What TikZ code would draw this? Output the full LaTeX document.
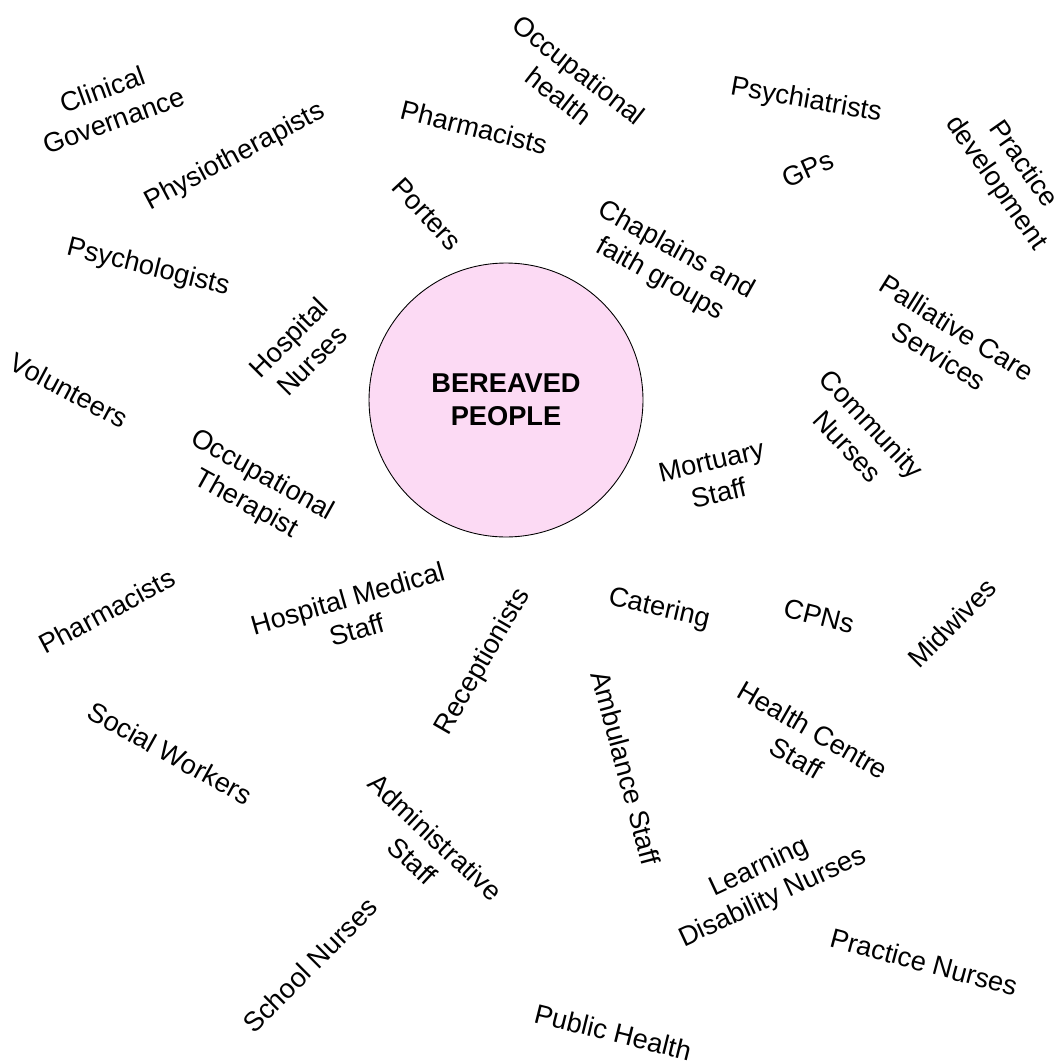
\documentclass[tikz,border=0pt]{standalone}
\usepackage{fontspec}
\setmainfont{Liberation Sans}
\definecolor{bereavedpink}{RGB}{252,218,244}

\begin{document}
\begin{tikzpicture}[
    x=0.02cm, y=-0.02cm,
    role/.style={font=\fontsize{15.5}{18.7}\selectfont, align=center, inner sep=0pt},
    hub/.style={circle, draw, line width=0.5pt, fill=bereavedpink, minimum size=5.48cm, align=center, font=\fontsize{15.5}{18.7}\selectfont\bfseries}
]
    \useasboundingbox (0,0) rectangle (1061,1064);

    \node [hub] (bereaved) at (506,400) {BEREAVED\\PEOPLE};

    % upper half
    \node [role, rotate=20] (clinical) at (108,105) {Clinical\\Governance};
    \node [role, rotate=28] (physio) at (235,157) {Physiotherapists};
    \node [role, rotate=-14] (pharmtop) at (474,127) {Pharmacists};
    \node [role, rotate=-38] (occhealth) at (569,83) {Occupational\\health};
    \node [role, rotate=-10] (psychiatrists) at (806,101) {Psychiatrists};
    \node [role, rotate=24] (gps) at (808,169) {GPs};
    \node [role, rotate=-55] (practicedev) at (1009,174) {Practice\\development};
    \node [role, rotate=-47] (porters) at (427,214) {Porters};
    \node [role, rotate=-29] (chaplains) at (668,265) {Chaplains and\\faith groups};
    \node [role, rotate=-14] (psychologists) at (148,268) {Psychologists};
    \node [role, rotate=45] (hospnurses) at (300,349) {Hospital\\Nurses};
    \node [role, rotate=-32] (palliative) at (948,342) {Palliative Care\\Services};
    \node [role, rotate=-28] (volunteers) at (69,390) {Volunteers};
    \node [role, rotate=-47] (community) at (860,435) {Community\\Nurses};
    \node [role, rotate=13] (mortuary) at (715,477) {Mortuary\\Staff};
    \node [role, rotate=-29] (occtherapist) at (254,490) {Occupational\\Therapist};

    % lower half
    \node [role, rotate=28] (pharmlow) at (107,611) {Pharmacists};
    \node [role, rotate=16] (hospmedical) at (352,614) {Hospital Medical\\Staff};
    \node [role, rotate=60] (receptionists) at (483,662) {Receptionists};
    \node [role, rotate=-13] (catering) at (659,609) {Catering};
    \node [role, rotate=-14] (cpns) at (819,616) {CPNs};
    \node [role, rotate=45] (midwives) at (952,623) {Midwives};
    \node [role, rotate=-75] (ambulance) at (626,768) {Ambulance Staff};
    \node [role, rotate=-30] (healthcentre) at (805,744) {Health Centre\\Staff};
    \node [role, rotate=-29] (social) at (170,753) {Social Workers};
    \node [role, rotate=-43] (admin) at (424,849) {Administrative\\Staff};
    \node [role, rotate=25] (learning) at (766,883) {Learning\\Disability Nurses};
    \node [role, rotate=45] (school) at (310,965) {School Nurses};
    \node [role, rotate=-15] (practicenurses) at (924,962) {Practice Nurses};
    \node [role, rotate=-14] (publichealth) at (613,1032) {Public Health};
\end{tikzpicture}
\end{document}
